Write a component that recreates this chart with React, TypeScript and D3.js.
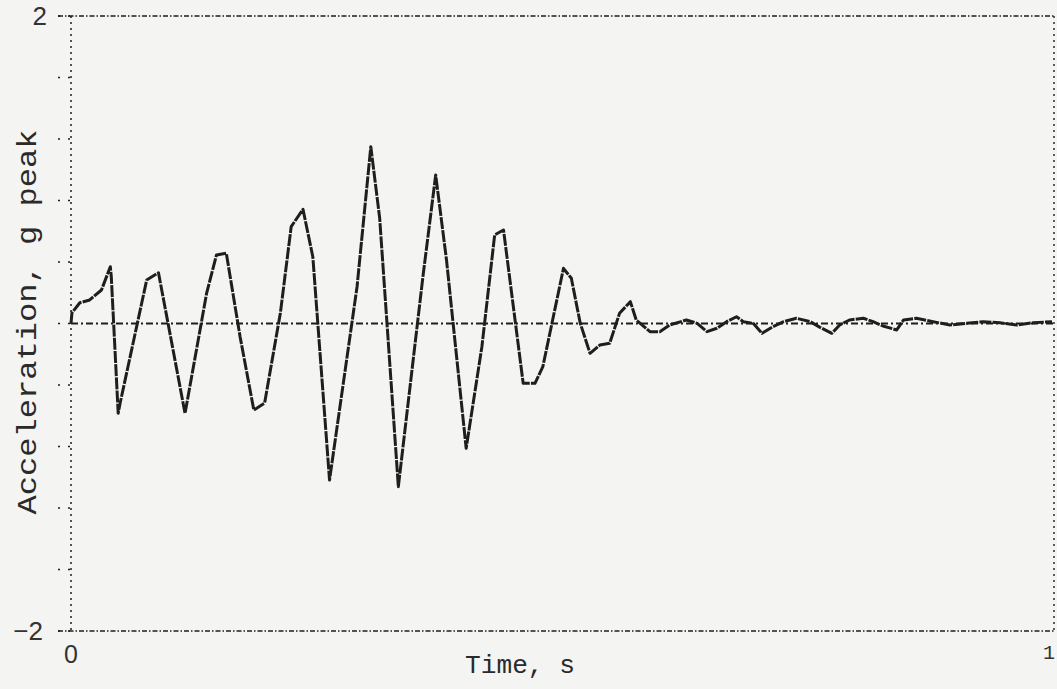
import React from "react";
import * as d3 from "d3";

// Time (s) and acceleration (g peak)
const times = [
  0.0, 0.001, 0.009, 0.019, 0.031, 0.04, 0.041, 0.048, 0.05, 0.077, 0.089, 0.116,
  0.138, 0.148, 0.158, 0.172, 0.186, 0.197, 0.213, 0.224, 0.236, 0.246, 0.263,
  0.291, 0.305, 0.314, 0.333, 0.358, 0.371, 0.382, 0.402, 0.418, 0.431, 0.44,
  0.46, 0.472, 0.48, 0.501, 0.509, 0.518, 0.528, 0.538, 0.548, 0.558, 0.569,
  0.575, 0.589, 0.599, 0.609, 0.626, 0.637, 0.647, 0.657, 0.667, 0.677, 0.684,
  0.694, 0.703, 0.714, 0.725, 0.738, 0.752, 0.762, 0.774, 0.782, 0.792, 0.806,
  0.816, 0.826, 0.84, 0.847, 0.86, 0.877, 0.894, 0.911, 0.928, 0.945, 0.962,
  0.979, 0.998,
];
const accel = [
  0.0, 0.07, 0.135, 0.153, 0.218, 0.369, 0.304, -0.584, -0.517, 0.283, 0.33, -0.584,
  0.198, 0.446, 0.457, -0.086, -0.563, -0.517, 0.068, 0.63, 0.743, 0.434, -1.018,
  0.239, 1.15, 0.686, -1.061, 0.304, 0.966, 0.413, -0.812, -0.151, 0.576, 0.608,
  -0.389, -0.389, -0.281, 0.359, 0.294, 0.003, -0.194, -0.14, -0.129, 0.066, 0.142,
  0.023, -0.053, -0.053, -0.01, 0.023, 0.001, -0.053, -0.031, 0.012, 0.044, 0.012,
  0.001, -0.064, -0.021, 0.012, 0.034, 0.012, -0.025, -0.064, -0.01, 0.023, 0.034,
  0.012, -0.016, -0.042, 0.023, 0.034, 0.012, -0.01, 0.001, 0.012, 0.005, -0.01,
  0.005, 0.012,
];
const yTicks = [-2, -1.6, -1.2, -0.8, -0.4, 0, 0.4, 0.8, 1.2, 1.6, 2];
const yTickLabels = ["2", "\u22122"];
const xTickLabels = ["0", "1"];
const xTitle = "Time, s";
const yTitle = "Acceleration, g peak";

const W = 1057;
const H = 689;
const M = { left: 71, right: 1054, top: 16, bottom: 631 };

export default function App() {
  const x = d3.scaleLinear().domain([0, 1]).range([M.left, M.right]);
  const y = d3.scaleLinear().domain([-2, 2]).range([M.bottom, M.top]);
  const pts = times.map((t, i) => [t, accel[i]] as [number, number]);
  const line = d3
    .line<[number, number]>()
    .x((d) => x(d[0]))
    .y((d) => y(d[1]));

  const ink = "#1e1e1e";
  const axisDash = "5 2 1.5 2";
  const mono = "'Liberation Mono', 'DejaVu Sans Mono', monospace";
  const sans = "'Liberation Sans', Arial, sans-serif";

  return (
    <svg
      width={W}
      height={H}
      style={{ position: "absolute", left: 0, top: 0, display: "block" }}
    >
      <rect x={0} y={0} width={W} height={H} fill="#f4f4f2" />
      {/* frame */}
      <line x1={x(0) - 13} x2={x(1)} y1={y(2)} y2={y(2)} stroke={ink} strokeWidth={1.6} strokeDasharray={axisDash} />
      <line x1={x(0) - 13} x2={x(1)} y1={y(-2)} y2={y(-2)} stroke={ink} strokeWidth={1.6} strokeDasharray={axisDash} />
      <line x1={x(0)} x2={x(0)} y1={y(2)} y2={y(-2)} stroke={ink} strokeWidth={1.5} strokeDasharray="2 4" />
      <line x1={x(1)} x2={x(1)} y1={y(2)} y2={y(-2)} stroke={ink} strokeWidth={1.4} strokeDasharray="2 4" />
      {/* y ticks */}
      {yTicks.map((v) => (
        <line key={v} x1={x(0) - 13} x2={x(0)} y1={y(v)} y2={y(v)} stroke={ink} strokeWidth={1.6} strokeDasharray="2 8" />
      ))}
      {/* zero line */}
      <line x1={x(0)} x2={x(1)} y1={y(0)} y2={y(0)} stroke={ink} strokeWidth={1.8} strokeDasharray="7 3 2 3" />
      {/* trace */}
      <path d={line(pts) || ""} fill="none" stroke={ink} strokeWidth={3} strokeLinejoin="round" strokeDasharray="12 1.2" />
      {/* tick labels */}
      <text x={x(0) - 24} y={y(2)} dy="0.35em" textAnchor="end" fontFamily={sans} fontSize={26} fill="#333">{yTickLabels[0]}</text>
      <text x={x(0) - 28} y={y(-2)} dy="0.35em" textAnchor="end" fontFamily={sans} fontSize={26} fill="#333">{yTickLabels[1]}</text>
      <text x={x(0)} y={y(-2) + 32} textAnchor="middle" fontFamily={sans} fontSize={25} fill="#333">{xTickLabels[0]}</text>
      <text x={x(1) + 1} y={y(-2) + 28} textAnchor="end" fontFamily={mono} fontSize={20} fill="#333">{xTickLabels[1]}</text>
      {/* titles */}
      <text x={520} y={673} textAnchor="middle" fontFamily={mono} fontSize={26} fill="#2a2a2a" textLength={110} lengthAdjust="spacingAndGlyphs">{xTitle}</text>
      <text transform={`translate(36, 322) rotate(-90)`} textAnchor="middle" fontFamily={mono} fontSize={27} fill="#2a2a2a" textLength={385} lengthAdjust="spacingAndGlyphs">{yTitle}</text>
    </svg>
  );
}
